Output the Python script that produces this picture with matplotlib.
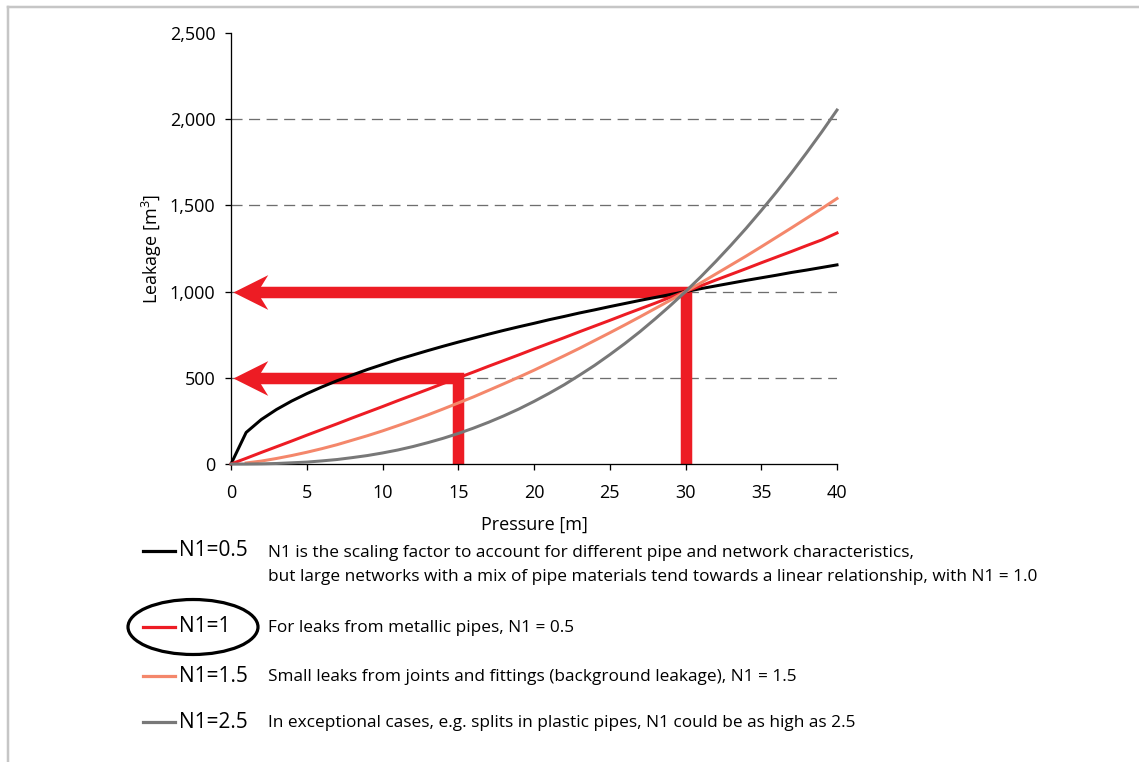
import matplotlib
matplotlib.use("Agg")
import matplotlib.pyplot as plt
from matplotlib.path import Path
from matplotlib.lines import Line2D
from matplotlib.patches import Ellipse
from matplotlib.ticker import FuncFormatter

# ---------------- data ----------------
pressure = list(range(0, 41))
leak_n05 = [0, 183, 258, 316, 365, 408, 447, 483, 516, 548, 577, 606, 632, 658,
            683, 707, 730, 753, 775, 796, 816, 837, 856, 876, 894, 913, 931, 949,
            966, 983, 1000, 1017, 1033, 1049, 1065, 1080, 1095, 1111, 1125, 1140,
            1155]
leak_n10 = [0, 33, 67, 100, 133, 167, 200, 233, 267, 300, 333, 367, 400, 433, 467,
            500, 533, 567, 600, 633, 667, 700, 733, 767, 800, 833, 867, 900, 933,
            967, 1000, 1033, 1067, 1100, 1133, 1167, 1200, 1233, 1267, 1300, 1340]
pressure_n15 = pressure[1:]
leak_n15 = [6, 17, 32, 49, 68, 89, 112, 138, 164, 192, 222, 253, 285, 319, 354,
            389, 427, 465, 504, 544, 586, 628, 671, 716, 761, 807, 854, 902, 950,
            1000, 1050, 1102, 1154, 1206, 1260, 1315, 1370, 1426, 1482, 1540]
leak_n25 = [0, 0, 1, 3, 7, 11, 18, 26, 37, 49, 64, 81, 101, 124, 149, 177, 208,
            242, 279, 319, 363, 410, 460, 515, 572, 634, 699, 768, 842, 919, 1000,
            1085, 1175, 1269, 1367, 1470, 1577, 1689, 1806, 1927, 2053]

series_labels = ["N1=0.5", "N1=1", "N1=1.5", "N1=2.5"]
series_notes = [
    "N1 is the scaling factor to account for different pipe and network characteristics,\n"
    "but large networks with a mix of pipe materials tend towards a linear relationship, with N1 = 1.0",
    "For leaks from metallic pipes, N1 = 0.5",
    "Small leaks from joints and fittings (background leakage), N1 = 1.5",
    "In exceptional cases, e.g. splits in plastic pipes, N1 could be as high as 2.5",
]
arrow_pressure = [15, 30]
arrow_leakage = [500, 1000]
grid_levels = [500, 1000, 1500, 2000]
x_ticks = [0, 5, 10, 15, 20, 25, 30, 35, 40]
y_ticks = [0, 500, 1000, 1500, 2000, 2500]

# ---------------- style ----------------
C_BLACK = "#000000"
C_RED = "#ED1C24"
C_ORANGE = "#F4876B"
C_GRAY = "#787878"
colors = [C_BLACK, C_RED, C_ORANGE, C_GRAY]

plt.rcParams["font.family"] = ["Open Sans", "DejaVu Sans"]
plt.rcParams["mathtext.fontset"] = "custom"
plt.rcParams["mathtext.rm"] = "Open Sans"

W, H = 1139, 762
fig = plt.figure(figsize=(W / 100, H / 100), dpi=100)
PX = 72 / 100  # points per pixel

def fx(px):
    return px / W

def fy(py):
    return 1 - py / H

ax = fig.add_axes([fx(231), fy(464), fx(837) - fx(231), fy(33) - fy(464)])
ax.set_xlim(0, 40)
ax.set_ylim(0, 2500)

# grid lines
ax.hlines(grid_levels, 0, 40, colors="#6E6E6E", linewidth=1.3 * PX,
          linestyles=(0, (8.5, 5)), zorder=1)

# red arrows
head = Path([(0, 0), (1, 0.5), (0.69, 0), (1, -0.5), (0, 0)],
            [Path.MOVETO, Path.LINETO, Path.LINETO, Path.LINETO, Path.CLOSEPOLY])
for p, l in zip(arrow_pressure, arrow_leakage):
    ax.plot([p, p, 1.5], [0, l, l], color=C_RED, linewidth=11.5 * PX,
            solid_joinstyle="miter", solid_capstyle="butt", zorder=2, clip_on=False)
    ax.plot([0.1], [l], marker=head, markersize=50, color=C_RED,
            markeredgewidth=0, linestyle="none", zorder=2, clip_on=False)

# curves
lw = 3.0 * PX
ax.plot(pressure, leak_n05, color=C_BLACK, lw=lw, zorder=4, clip_on=False)
ax.plot(pressure, leak_n10, color=C_RED, lw=lw, zorder=4, clip_on=False)
ax.plot(pressure_n15, leak_n15, color=C_ORANGE, lw=lw, zorder=4, clip_on=False)
ax.plot(pressure, leak_n25, color=C_GRAY, lw=lw, zorder=4, clip_on=False)

# axes styling
for s in ["top", "right"]:
    ax.spines[s].set_visible(False)
for s in ["left", "bottom"]:
    ax.spines[s].set_linewidth(1.3 * PX)
ax.set_xticks(x_ticks)
ax.set_yticks(y_ticks)
ax.yaxis.set_major_formatter(FuncFormatter(lambda v, pos: f"{int(v):,}"))
ax.tick_params(axis="both", direction="out", length=6 * PX, width=1.3 * PX,
               labelsize=13)
ax.tick_params(axis="x", pad=10)
ax.tick_params(axis="y", pad=7)
ax.set_xlabel("Pressure [m]", fontsize=13, labelpad=10)
ax.set_ylabel("Leakage [m$^{3}$]", fontsize=13, labelpad=4)

# legend-like block below the chart
rows_y = [551, 627, 676, 722]
for color, lab, note, ry in zip(colors, series_labels, series_notes, rows_y):
    fig.add_artist(Line2D([fx(143), fx(175)], [fy(ry), fy(ry)], color=color,
                          lw=3.2 * PX, transform=fig.transFigure))
    fig.text(fx(179), fy(ry), lab, fontsize=15, ha="left", va="center")
    if "\n" in note:
        fig.text(fx(268), fy(ry + 14), note, fontsize=12.4, ha="left",
                 va="center", linespacing=1.62)
    else:
        fig.text(fx(268), fy(ry + 1), note, fontsize=12.4, ha="left", va="center")

fig.add_artist(Ellipse((fx(193), fy(627)), fx(130), 55 / H, fill=False,
                       edgecolor="black", lw=3.2 * PX, transform=fig.transFigure))

# light frame (top and left)
fig.add_artist(Line2D([fx(8), 1], [fy(7), fy(7)], color="#C6C6C6", lw=2.5 * PX,
                      transform=fig.transFigure))
fig.add_artist(Line2D([fx(8), fx(8)], [fy(7), 0], color="#C6C6C6", lw=2.5 * PX,
                      transform=fig.transFigure))

fig.savefig("out.png", dpi=100, facecolor="white")
